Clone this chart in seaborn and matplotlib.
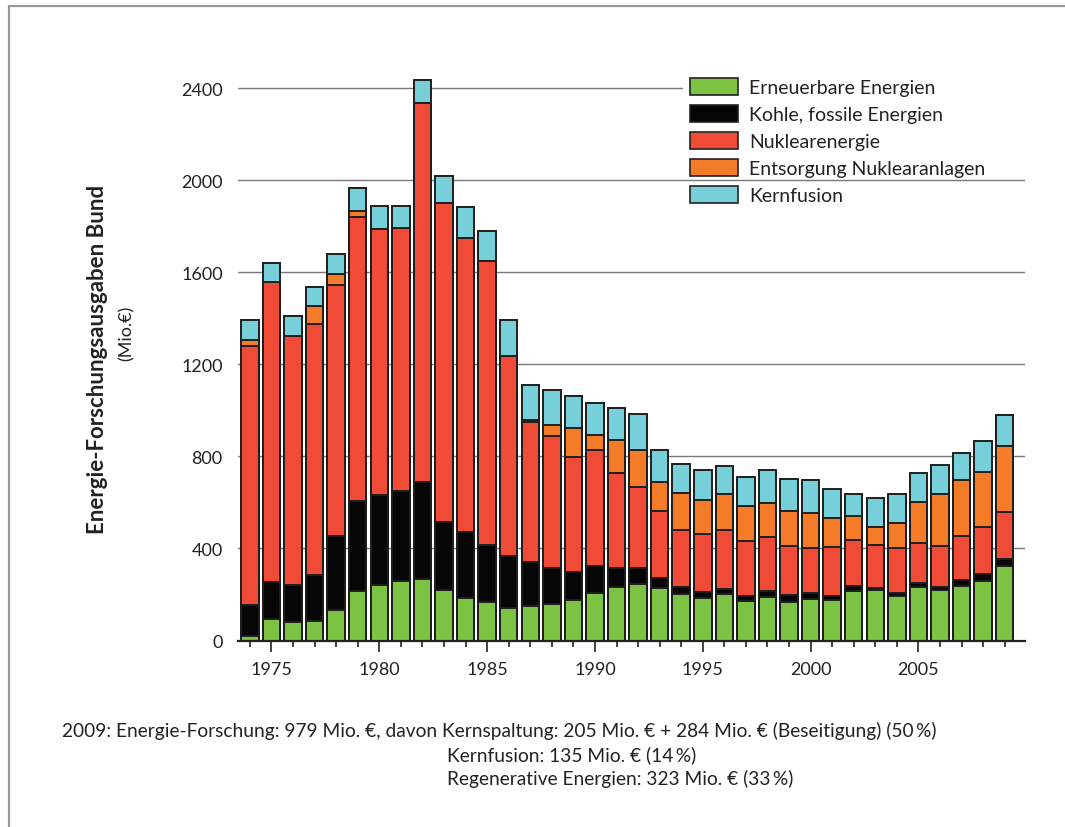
import seaborn as sns
import matplotlib.pyplot as plt
from matplotlib.patches import Patch
from matplotlib.lines import Line2D
import numpy as np
import pandas as pd

# Daten (Mio. Euro)
jahre = list(range(1974, 2010))
erneuerbar = [20, 95, 79, 83, 134, 214, 241, 257, 268, 218, 185, 167, 143, 150, 160, 176, 208, 231,
              247, 227, 202, 183, 201, 173, 188, 169, 182, 176, 215, 218, 195, 234, 218, 238, 260, 323]
kohle = [135, 160, 160, 200, 321, 393, 389, 391, 420, 298, 288, 246, 225, 189, 157, 122, 116, 82,
         70, 45, 32, 28, 24, 22, 29, 29, 24, 19, 20, 10, 11, 14, 16, 26, 29, 32]
nuklear = [1123, 1302, 1084, 1092, 1089, 1233, 1156, 1145, 1646, 1386, 1277, 1234, 870, 611, 573,
           498, 505, 416, 351, 289, 247, 251, 256, 238, 234, 214, 197, 211, 201, 189, 195, 177,
           175, 190, 205, 205]
entsorgung = [27, 0, 0, 77, 49, 25, 0, 0, 0, 0, 0, 0, 0, 8, 48, 125, 63, 142, 160, 126, 160, 149,
              154, 152, 145, 151, 153, 124, 105, 77, 109, 178, 228, 242, 239, 284]
kernfusion = [86, 85, 86, 84, 88, 99, 100, 93, 100, 116, 131, 130, 155, 153, 150, 141, 141, 141,
              158, 140, 127, 128, 123, 127, 146, 140, 141, 127, 97, 127, 125, 126, 124, 117, 135, 135]

labels = ['Erneuerbare Energien', 'Kohle, fossile Energien', 'Nuklearenergie',
          'Entsorgung Nuklearanlagen', 'Kernfusion']
farben = ['#7cc243', '#060606', '#ef4b37', '#f47c28', '#77cfda']
y_ticks = [0, 400, 800, 1200, 1600, 2000, 2400]
x_ticks = [1975, 1980, 1985, 1990, 1995, 2000, 2005]

df = pd.DataFrame({'Jahr': jahre, labels[0]: erneuerbar, labels[1]: kohle, labels[2]: nuklear,
                   labels[3]: entsorgung, labels[4]: kernfusion})
kum = df[labels].cumsum(axis=1)

sns.set_style('white')
plt.rcParams['font.family'] = ['Lato', 'DejaVu Sans']

fig = plt.figure(figsize=(10.65, 8.28), dpi=100)
ax = fig.add_axes([238 / 1065, 1 - 641.5 / 828, (1025 - 238) / 1065, (641.5 - 70.6) / 828])

# gestapelte Balken: von oben nach unten übereinander zeichnen
for lab, col in zip(labels[::-1], farben[::-1]):
    sns.barplot(x=df['Jahr'], y=kum[lab], native_scale=True, color=col, saturation=1,
                width=0.81, edgecolor='#1e1e1e', linewidth=1.4, ax=ax, zorder=3)

ax.set_xlim(1973.45, 2009.94)
ax.set_ylim(0, 2480)
ax.set_yticks(y_ticks)
ax.set_yticklabels([str(v) for v in y_ticks])
ax.set_xticks(x_ticks)
ax.set_xticklabels([str(v) for v in x_ticks])
ax.set_xticks(jahre, minor=True)
ax.set_xlabel('')
ax.set_ylabel('')

# Gitterlinien, die oberste endet vor der Legende
ax.grid(False)
for v in y_ticks[1:]:
    xmax = (682 - 238) / (1025 - 238) if v == 2400 else 1
    ax.axhline(v, xmin=0, xmax=xmax, color='#777777', linewidth=1.0, zorder=0)
for s in ['left', 'top', 'right']:
    ax.spines[s].set_visible(False)
ax.spines['bottom'].set_color('#222222')
ax.spines['bottom'].set_linewidth(1.6)
ax.spines['bottom'].set_zorder(5)

ax.tick_params(axis='y', length=0, pad=11, labelsize=13, labelcolor='#222222')
ax.tick_params(axis='x', which='major', direction='out', length=8, width=1.2, color='#222222',
               pad=7, labelsize=13, labelcolor='#222222', bottom=True)
ax.tick_params(axis='x', which='minor', direction='out', length=4.3, width=1.2, color='#222222',
               bottom=True)

handles = [Patch(facecolor=c, edgecolor='#222222', linewidth=1.2) for c in farben]
fig.legend(handles, labels, loc='upper left', bbox_to_anchor=(690 / 1065, 1 - 79 / 828),
           frameon=False, fontsize=14, handlelength=2.45, handleheight=0.95,
           handletextpad=0.6, labelspacing=0.46, borderpad=0, borderaxespad=0,
           labelcolor='#222222')

fig.text(98 / 1065, 1 - 359 / 828, 'Energie-Forschungsausgaben Bund', rotation=90,
         ha='center', va='center', fontsize=16, fontweight='bold', color='#222222')
fig.text(127 / 1065, 1 - 333 / 828, '(Mio.€)', rotation=90, ha='center', va='center',
         fontsize=13, color='#222222')

fig.text(62 / 1065, 1 - 731 / 828,
         '2009: Energie-Forschung: 979 Mio. €, davon Kernspaltung: 205 Mio. € + 284 Mio. € '
         '(Beseitigung) (50\u2009%)', ha='left', va='center', fontsize=13.8, color='#222222')
fig.text(447 / 1065, 1 - 755 / 828, 'Kernfusion: 135 Mio. € (14\u2009%)', ha='left',
         va='center', fontsize=13.8, color='#222222')
fig.text(447 / 1065, 1 - 779 / 828, 'Regenerative Energien: 323 Mio. € (33\u2009%)', ha='left',
         va='center', fontsize=13.8, color='#222222')

# Rahmenlinien der Vorlage (oben und links)
fig.add_artist(Line2D([9.3 / 1065, 9.3 / 1065], [0, 1 - 7.3 / 828], color='#999999', linewidth=1.6))
fig.add_artist(Line2D([9.3 / 1065, 1], [1 - 7.3 / 828, 1 - 7.3 / 828], color='#999999', linewidth=1.6))

plt.savefig('out.png', dpi=100)
